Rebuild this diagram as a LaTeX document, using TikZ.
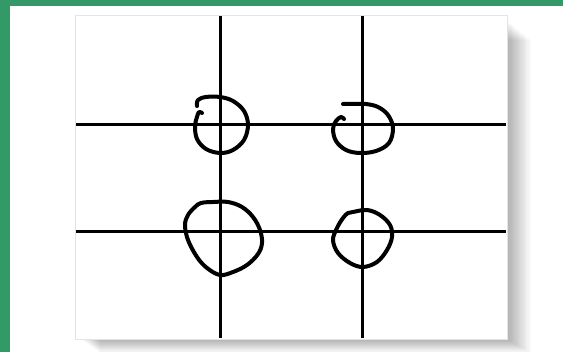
\documentclass[tikz,border=0pt]{standalone}
\usepackage{tikz}

\definecolor{framegreen}{RGB}{51,153,102}
\definecolor{edgegray}{RGB}{228,228,228}

\tikzset{
  gridline/.style={line width=3pt,black},
  penmark/.style={line width=4pt,black,line cap=round,line join=round},
}

\begin{document}
\begin{tikzpicture}[x=1pt,y=-1pt]
\useasboundingbox (0,0) rectangle (563,352);
\fill[framegreen] (0,0) rectangle (563,352);
\fill[white] (10,6) rectangle (563,352);

% shadow of the sheet
\foreach \i in {1,...,20}
  \fill[black,opacity=0.014] (80+\i,20+\i) rectangle (507+1.2*\i,339+0.7*\i);

% the sheet
\fill[white,draw=edgegray,line width=0.6pt] (75,15) rectangle (507,339);

\coordinate (TL) at (220,125);
\coordinate (TR) at (362,125);
\coordinate (BL) at (220,232);
\coordinate (BR) at (362,232);

\coordinate (v1a) at (220,16);
\coordinate (v1b) at (220,338);
\coordinate (v2a) at (362,16);
\coordinate (v2b) at (362,338);
\coordinate (h1a) at (76,125);
\coordinate (h1b) at (506,125);
\coordinate (h2a) at (76,232);
\coordinate (h2b) at (506,232);

\draw[gridline] (v1a) -- (v1b);
\draw[gridline] (v2a) -- (v2b);
\draw[gridline] (h1a) -- (h1b);
\draw[gridline] (h2a) -- (h2b);

% hand drawn rings
\draw[penmark] plot[smooth,tension=0.6] coordinates {
  (197,106) (198,100) (206,97) (220,97) (233,101) (244,111) (248,125)
  (244,140) (233,150) (220,153) (206,149) (197,139) (195,126) (197,117)
  (199,112) (202,113)};
\draw[penmark] plot[smooth,tension=0.6] coordinates {
  (343,104) (355,104) (366,104) (378,107) (388,115) (393,128) (389,143)
  (376,151) (360,153) (346,150) (336,141) (333,129) (336,121) (341,117)
  (344,119)};
\draw[penmark] plot[smooth cycle,tension=0.6] coordinates {
  (201,203) (213,202) (228,202) (242,207) (253,217) (260,230) (262,243)
  (258,254) (247,265) (233,272) (220,275) (207,268) (197,257) (188,240)
  (185,225) (188,215) (195,207)};
\draw[penmark] plot[smooth cycle,tension=0.6] coordinates {
  (353,212) (367,210) (380,215) (390,225) (392,237) (387,250) (377,262)
  (363,267) (350,263) (338,253) (333,240) (337,228) (343,218) (348,213)};
\end{tikzpicture}
\end{document}
